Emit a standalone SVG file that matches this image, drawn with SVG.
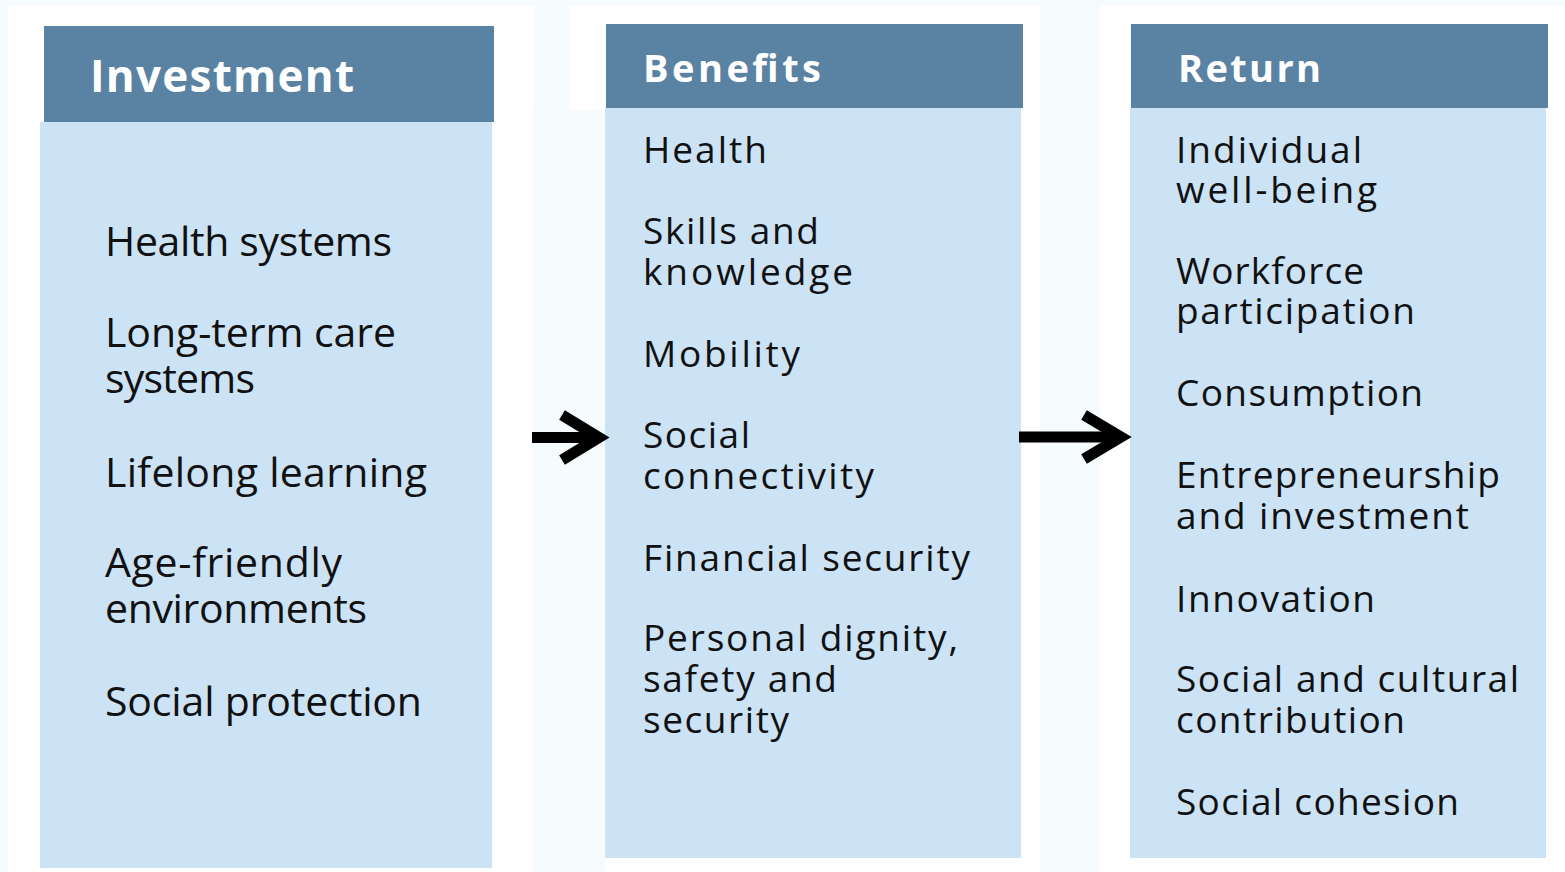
<svg xmlns="http://www.w3.org/2000/svg" width="1565" height="872" viewBox="0 0 1565 872">
  <style>
    .head { fill: #5a82a2; }
    .body { fill: #cce2f5; }
    .title { font-family: "Open Sans", "Liberation Sans", sans-serif; font-weight: bold; fill: #ffffff; }
    .item { font-family: "Open Sans", "Liberation Sans", sans-serif; fill: #111111; }
    .big { font-size: 41px; }
    .small { font-size: 37px; font-weight: 500; }
    .arrow { fill: none; stroke: #000000; stroke-width: 11; stroke-linejoin: miter; stroke-miterlimit: 10; }
  </style>

  <!-- page background with faint tinted strips -->
  <rect x="0" y="0" width="1565" height="872" fill="#ffffff"/>
  <rect x="0" y="0" width="1565" height="6" fill="#f6fcfd"/>
  <rect x="0" y="0" width="8" height="872" fill="#f6fcfd"/>
  <rect x="534" y="0" width="36" height="110" fill="#f6fcfd"/>
  <rect x="532" y="110" width="73" height="762" fill="#f6fcfd"/>
  <rect x="1040" y="0" width="60" height="872" fill="#f6fcfd"/>

  <!-- Investment column -->
  <g id="investment">
    <rect class="body" x="40" y="122" width="452" height="746"/>
    <rect class="head" x="44" y="26" width="450" height="96"/>
    <text class="title" x="90" y="92" font-size="44" textLength="264" lengthAdjust="spacing">Investment</text>
    <text class="item big" x="105" y="256" textLength="287" lengthAdjust="spacing">Health systems</text>
    <text class="item big"><tspan x="105" y="347" textLength="291" lengthAdjust="spacing">Long-term care</tspan><tspan x="105" y="393" textLength="150" lengthAdjust="spacing">systems</tspan></text>
    <text class="item big" x="105" y="487" textLength="322" lengthAdjust="spacing">Lifelong learning</text>
    <text class="item big"><tspan x="105" y="577" textLength="237" lengthAdjust="spacing">Age-friendly</tspan><tspan x="105" y="623" textLength="262" lengthAdjust="spacing">environments</tspan></text>
    <text class="item big" x="105" y="716" textLength="317" lengthAdjust="spacing">Social protection</text>
  </g>

  <!-- Benefits column -->
  <g id="benefits">
    <rect class="body" x="605" y="108" width="416" height="750"/>
    <rect class="head" x="606" y="24" width="417" height="84"/>
    <text class="title" x="643" y="82" font-size="38" textLength="178" lengthAdjust="spacing">Benefits</text>
    <text class="item small" x="643" y="163" textLength="124" lengthAdjust="spacing">Health</text>
    <text class="item small"><tspan x="643" y="244" textLength="176" lengthAdjust="spacing">Skills and</tspan><tspan x="643" y="285" textLength="210" lengthAdjust="spacing">knowledge</tspan></text>
    <text class="item small" x="643" y="367" textLength="157" lengthAdjust="spacing">Mobility</text>
    <text class="item small"><tspan x="643" y="448" textLength="107" lengthAdjust="spacing">Social</tspan><tspan x="643" y="489" textLength="231" lengthAdjust="spacing">connectivity</tspan></text>
    <text class="item small" x="643" y="571" textLength="327" lengthAdjust="spacing">Financial security</text>
    <text class="item small"><tspan x="643" y="651" textLength="315" lengthAdjust="spacing">Personal dignity,</tspan><tspan x="643" y="692" textLength="194" lengthAdjust="spacing">safety and</tspan><tspan x="643" y="733" textLength="146" lengthAdjust="spacing">security</tspan></text>
  </g>

  <!-- Return column -->
  <g id="return">
    <rect class="body" x="1130" y="108" width="416" height="750"/>
    <rect class="head" x="1131" y="24" width="417" height="84"/>
    <text class="title" x="1178" y="82" font-size="38" textLength="143" lengthAdjust="spacing">Return</text>
    <text class="item small"><tspan x="1176" y="163" textLength="186" lengthAdjust="spacing">Individual</tspan><tspan x="1176" y="203" textLength="201" lengthAdjust="spacing">well-being</tspan></text>
    <text class="item small"><tspan x="1176" y="284" textLength="188" lengthAdjust="spacing">Workforce</tspan><tspan x="1176" y="324" textLength="239" lengthAdjust="spacing">participation</tspan></text>
    <text class="item small" x="1176" y="406" textLength="247" lengthAdjust="spacing">Consumption</text>
    <text class="item small"><tspan x="1176" y="488" textLength="324" lengthAdjust="spacing">Entrepreneurship</tspan><tspan x="1176" y="529" textLength="293" lengthAdjust="spacing">and investment</tspan></text>
    <text class="item small" x="1176" y="612" textLength="199" lengthAdjust="spacing">Innovation</text>
    <text class="item small"><tspan x="1176" y="692" textLength="343" lengthAdjust="spacing">Social and cultural</tspan><tspan x="1176" y="733" textLength="229" lengthAdjust="spacing">contribution</tspan></text>
    <text class="item small" x="1176" y="815" textLength="283" lengthAdjust="spacing">Social cohesion</text>
  </g>

  <!-- connectors -->
  <g id="connectors">
    <line class="arrow" x1="532" y1="437.5" x2="596" y2="437.5"/>
    <polyline class="arrow" points="562,415 599,437.5 562,460"/>
    <line class="arrow" x1="1019" y1="437" x2="1118" y2="437"/>
    <polyline class="arrow" points="1084,415 1121,437 1084,459"/>
  </g>
</svg>
